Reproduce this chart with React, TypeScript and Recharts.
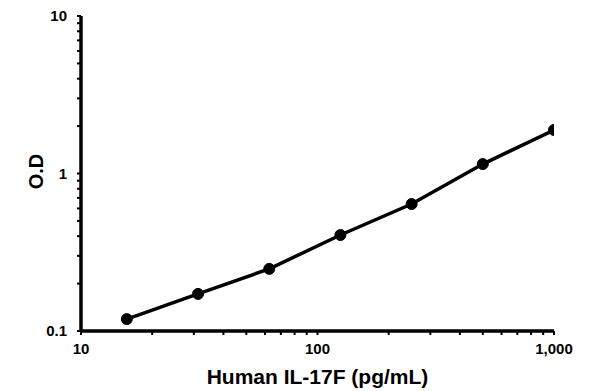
import { LineChart, Line, XAxis, YAxis } from 'recharts'

const concentration = [15.625, 31.25, 62.5, 125, 250, 500, 1000]
const od = [0.119, 0.172, 0.248, 0.407, 0.64, 1.148, 1.89]

const xMajor = [10, 100, 1000]
const xMinor = [20, 30, 40, 50, 60, 70, 80, 90, 200, 300, 400, 500, 600, 700, 800, 900]
const yMajor = [0.1, 1, 10]
const yMinor = [0.2, 0.3, 0.4, 0.5, 0.6, 0.7, 0.8, 0.9, 2, 3, 4, 5, 6, 7, 8, 9]

const xLabels: Record<number, string> = { 10: '10', 100: '100', 1000: '1,000' }
const yLabels: Record<number, string> = { 0.1: '0.1', 1: '1', 10: '10' }

const data = concentration.map((c, i) => ({ conc: c, od: od[i] }))

const FONT = '"Liberation Sans", Arial, sans-serif'

const XTick = ({ x, y, payload }: any) => {
  const label = xLabels[payload.value]
  if (!label) return <g />
  return (
    <text x={x} y={y + 17} textAnchor="middle" fontFamily={FONT} fontWeight="bold" fontSize={15} fill="#000">
      {label}
    </text>
  )
}

const YTick = ({ x, y, payload }: any) => {
  const label = yLabels[payload.value]
  if (!label) return <g />
  return (
    <text x={x - 8} y={y} dy="0.36em" textAnchor="end" fontFamily={FONT} fontWeight="bold" fontSize={15} fill="#000">
      {label}
    </text>
  )
}

const YTitle = ({ viewBox }: any) => {
  const cx = viewBox.x + 43
  const cy = viewBox.y + viewBox.height / 2 - 2
  return (
    <text
      x={cx}
      y={cy}
      textAnchor="middle"
      transform={`rotate(-90, ${cx}, ${cy})`}
      fontFamily={FONT}
      fontWeight="bold"
      fontSize={20}
      fill="#000"
    >
      O.D
    </text>
  )
}

export default function App() {
  return (
    <div style={{ position: 'absolute', left: 0, top: 0, background: '#fff' }}>
      <LineChart width={596} height={391} data={data} margin={{ top: 16, right: 42, left: 0, bottom: 0 }}>
        <XAxis
          dataKey="conc"
          type="number"
          scale="log"
          domain={[10, 1000]}
          allowDataOverflow
          ticks={[...xMajor, ...xMinor]}
          interval={0}
          height={60}
          tick={<XTick />}
          tickSize={4}
          axisLine={{ stroke: '#000', strokeWidth: 3.5 }}
          tickLine={{ stroke: '#000', strokeWidth: 2 }}
          label={{
            value: 'Human IL-17F (pg/mL)',
            position: 'insideBottom',
            offset: 7,
            style: { fontFamily: FONT, fontWeight: 'bold', fontSize: 21, fill: '#000' },
          }}
        />
        <YAxis
          type="number"
          scale="log"
          domain={[0.1, 10]}
          allowDataOverflow
          ticks={[...yMajor, ...yMinor]}
          interval={0}
          width={81}
          tick={<YTick />}
          tickSize={4}
          axisLine={{ stroke: '#000', strokeWidth: 3.5 }}
          tickLine={{ stroke: '#000', strokeWidth: 2 }}
          label={{ content: <YTitle /> }}
        />
        <Line
          dataKey="od"
          stroke="#000"
          strokeWidth={3.5}
          dot={{ r: 5.5, fill: '#000', stroke: '#000', strokeWidth: 1 }}
          activeDot={false}
          isAnimationActive={false}
        />
      </LineChart>
    </div>
  )
}
